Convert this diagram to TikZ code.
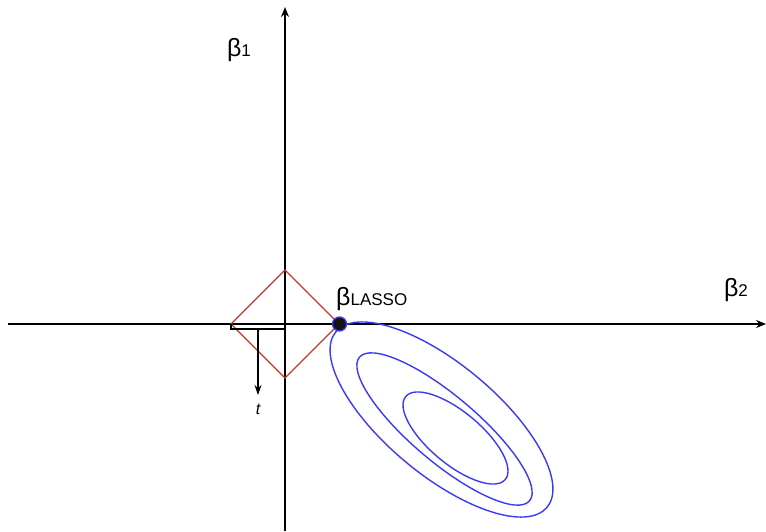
\documentclass[tikz,border=0pt]{standalone}
\usepackage{fontspec}
\setmainfont{Liberation Sans}
\usetikzlibrary{arrows.meta}
\definecolor{dred}{HTML}{C0392B}
\definecolor{eblue}{HTML}{3A3AF5}
\tikzset{
  axis/.style={line width=1.4pt,-{Stealth[length=10pt,width=8pt]}},
  diam/.style={draw=dred,line width=1.3pt},
  contour/.style={draw=eblue,line width=1.4pt},
  lbl/.style={inner sep=0pt,font=\fontsize{25}{30}\selectfont},
  sub/.style={},
}
\newcommand{\subsz}{\fontsize{17}{20}\selectfont}
\begin{document}
\begin{tikzpicture}[x=1pt,y=-1pt]
\useasboundingbox (0,0) rectangle (766,531);
% axes
\coordinate (xl) at (8,324);
\coordinate (xr) at (766,324);
\coordinate (yb) at (285,531);
\coordinate (yt) at (285,7);
\draw[axis] (xl) -- (xr);
\draw[axis] (yb) -- (yt);
% diamond
\coordinate (dl) at (231,324);
\coordinate (dt) at (285,270);
\coordinate (dr) at (339,324);
\coordinate (db) at (285,378);
\draw[diam] (dl) -- (dt) -- (dr) -- (db) -- cycle;
% contours
\draw[contour,rotate around={-39.7:(441.5,419.5)}] (441.5,419.5) ellipse [x radius=137.3pt, y radius=55.5pt];
\draw[contour,rotate around={-40.2:(444.5,429)}] (444.5,429) ellipse [x radius=111.3pt, y radius=33pt];
\draw[contour,rotate around={-39.8:(455.5,438)}] (455.5,438) ellipse [x radius=64.8pt, y radius=26pt];
% bracket and t arrow
\coordinate (bl) at (231,329);
\coordinate (br) at (285,329);
\coordinate (bm) at (258,329);
\draw[line width=1.3pt] (dl) -- (bl) -- (br);
\node[inner sep=0pt,font=\fontsize{16}{18}\selectfont\itshape] (t) at (258,409) {t};
\coordinate (te) at (258,395);
\draw[line width=1.3pt,-{Stealth[length=10pt,width=7pt,inset=3.5pt]}] (bm) -- (te);
% lasso point
\node[circle,fill=black!92,draw=eblue,line width=1.3pt,minimum size=14pt,inner sep=0pt] (lasso) at (339.5,324) {};
% labels
\node[lbl,anchor=west] (blasso) at (336,299) {β{\subsz LASSO}};
\node[lbl] (b1) at (239,50) {β{\subsz 1}};
\node[lbl] (b2) at (736,290) {β{\subsz 2}};
\end{tikzpicture}
\end{document}
